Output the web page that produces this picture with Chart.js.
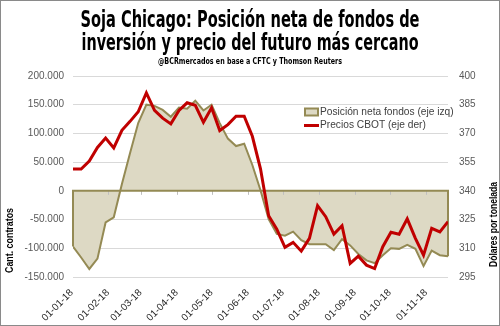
<!DOCTYPE html>
<html>
<head>
<meta charset="utf-8">
<script src="https://cdn.jsdelivr.net/npm/chart.js@4.4.1/dist/chart.umd.min.js"></script>
<style>
  html, body { margin: 0; padding: 0; background: #fff; }
  #wrap { width: 500px; height: 326px; border: 1px solid #8a8a8a; box-sizing: border-box; position: relative; }
  canvas { display: block; }
</style>
</head>
<body>
<div id="wrap"><canvas id="c" width="498" height="324"></canvas></div>
<script>
// Weekly dates (Tuesdays, 2018)
const dates = [
  '2018-01-02','2018-01-09','2018-01-16','2018-01-23','2018-01-30',
  '2018-02-06','2018-02-13','2018-02-20','2018-02-27',
  '2018-03-06','2018-03-13','2018-03-20','2018-03-27',
  '2018-04-03','2018-04-10','2018-04-17','2018-04-24',
  '2018-05-01','2018-05-08','2018-05-15','2018-05-22','2018-05-29',
  '2018-06-05','2018-06-12','2018-06-19','2018-06-26',
  '2018-07-03','2018-07-10','2018-07-17','2018-07-24','2018-07-31',
  '2018-08-07','2018-08-14','2018-08-21','2018-08-28',
  '2018-09-04','2018-09-11','2018-09-18','2018-09-25',
  '2018-10-02','2018-10-09','2018-10-16','2018-10-23','2018-10-30',
  '2018-11-06','2018-11-13','2018-11-20'
];
// Net position of funds (contracts) - left axis
const posicionFondos = [
  -97000,-116000,-136000,-118000,-55000,
  -46000,12000,66000,118000,
  150000,148000,141000,129000,
  145000,143000,157000,140000,
  150000,118000,91000,78000,82000,
  45000,1000,-49000,-75000,
  -78000,-71000,-86000,-93000,-93000,
  -93000,-103000,-84000,-95000,
  -110000,-121000,-126000,-112000,
  -100000,-101000,-94000,-101000,-131000,
  -104000,-112000,-114000
];
// CBOT price (USD/t) - right axis
const preciosCBOT = [
  351.4,351.4,355.6,362.7,367.6,
  362.4,371.6,376.3,381.3,
  391.2,382.1,378.0,375.0,
  382.0,386.0,384.7,375.8,
  383.4,371.5,374.6,379.0,379.0,
  368.5,351.5,327.0,320.0,
  310.5,313.1,308.5,315.2,332.3,
  326.5,317.4,321.8,302.1,
  305.9,301.2,299.4,310.8,
  318.4,317.3,325.4,315.2,306.4,
  320.4,318.6,323.9
];
// Month-start tick labels
const tickDates = ['2018-01-01','2018-02-01','2018-03-01','2018-04-01','2018-05-01','2018-06-01',
                   '2018-07-01','2018-08-01','2018-09-01','2018-10-01','2018-11-01'];
const seriesLabels = ['Posición neta fondos (eje izq)', 'Precios CBOT (eje der)'];
const titleLines = ['Soja Chicago: Posición neta de fondos de', 'inversión y precio del futuro más cercano'];
const subtitleText = '@BCRmercados en base a CFTC y Thomson Reuters';
const leftAxisTitle = 'Cant. contratos';
const rightAxisTitle = 'Dólares por tonelada';
const leftTicks = { min: -150000, max: 200000, step: 50000 };
const rightTicks = { min: 295, max: 400, step: 15 };

const DAY = 86400000;
const base = Date.UTC(2018, 0, 1);
const toDay = s => { const [y,m,d] = s.split('-').map(Number); return Math.round((Date.UTC(y, m-1, d) - base) / DAY); };
const dayToLabel = v => {
  const d = new Date(base + v * DAY);
  const p = n => String(n).padStart(2, '0');
  return p(d.getUTCDate()) + '-' + p(d.getUTCMonth()+1) + '-' + String(d.getUTCFullYear()).slice(2);
};
const fmtThousands = v => v === 0 ? '0' : (v < 0 ? '-' : '') + String(Math.abs(v)).replace(/\B(?=(\d{3})+(?!\d))/g, '.');

const days = dates.map(toDay);
const tickDays = tickDates.map(toDay);

const OLIVE = '#948a54';
const FILL = '#ddd9c4';
const RED = '#c00000';
const FONT = "'Liberation Sans', Arial, sans-serif";
const COND = "'DejaVu Sans Condensed', 'DejaVu Sans', sans-serif";

// draw text horizontally compressed to a target width
function fitText(ctx, text, x, y, font, targetW, align, rot) {
  ctx.save();
  ctx.font = font;
  const w = ctx.measureText(text).width;
  ctx.translate(x, y);
  if (rot) ctx.rotate(rot);
  ctx.scale(Math.min(1, targetW / w), 1);
  ctx.textAlign = align; ctx.textBaseline = 'alphabetic';
  ctx.fillText(text, 0, 0);
  ctx.restore();
}

const areaOutline = {
  id: 'areaOutline',
  afterDatasetDraw(chart, args) {
    if (args.index !== 0) return;
    const {ctx} = chart, x = chart.scales.x, y = chart.scales.y;
    const y0 = y.getPixelForValue(0);
    const n = days.length - 1;
    const xa = x.getPixelForValue(days[0]), xb = x.getPixelForValue(days[n]);
    ctx.save();
    ctx.strokeStyle = '#bfbfbf'; ctx.lineWidth = 1;
    tickDays.forEach(t => {
      const px = Math.round(x.getPixelForValue(t)) + 0.5;
      if (px < xa + 2 || px > xb) return;
      ctx.beginPath(); ctx.moveTo(px, y0); ctx.lineTo(px, y0 + 4); ctx.stroke();
    });
    ctx.strokeStyle = OLIVE; ctx.lineWidth = 2;
    ctx.beginPath();
    ctx.moveTo(xa, y.getPixelForValue(posicionFondos[0]));
    ctx.lineTo(xa, y0); ctx.lineTo(xb, y0);
    ctx.lineTo(xb, y.getPixelForValue(posicionFondos[n]));
    ctx.stroke();
    ctx.restore();
  }
};

const extras = {
  id: 'extras',
  afterDraw(chart) {
    const {ctx} = chart, area = chart.chartArea, s1 = chart.scales.y1;
    ctx.fillStyle = '#000';
    // title + subtitle
    fitText(ctx, titleLines[0], 249, 25.7, 'bold 23px ' + COND, 339, 'center');
    fitText(ctx, titleLines[1], 249, 49, 'bold 23px ' + COND, 337, 'center');
    fitText(ctx, subtitleText, 249, 63, 'bold 9.5px ' + COND, 184, 'center');
    // axis titles
    fitText(ctx, leftAxisTitle, 12, area.bottom - 4, 'bold 11px ' + FONT, 65, 'left', -Math.PI / 2);
    fitText(ctx, rightAxisTitle, s1.right - 2, area.bottom - 10, 'bold 11px ' + FONT, 85, 'left', -Math.PI / 2);
    // legend
    ctx.save();
    const lx = 303, ly = [111, 124.5];
    ctx.fillStyle = FILL; ctx.fillRect(lx + 1, ly[0] - 3.5, 13, 7);
    ctx.strokeStyle = OLIVE; ctx.lineWidth = 2; ctx.strokeRect(lx + 1, ly[0] - 3.5, 13, 7);
    ctx.strokeStyle = RED; ctx.lineWidth = 3;
    ctx.beginPath(); ctx.moveTo(lx, ly[1]); ctx.lineTo(lx + 15, ly[1]); ctx.stroke();
    ctx.font = '10.2px ' + FONT;
    ctx.fillStyle = '#404040';
    ctx.textBaseline = 'middle'; ctx.textAlign = 'left';
    ctx.fillText(chart.data.datasets[0].label, lx + 16, ly[0]);
    ctx.fillText(chart.data.datasets[1].label, lx + 16, ly[1]);
    ctx.restore();
  }
};

new Chart(document.getElementById('c'), {
  type: 'line',
  data: {
    datasets: [
      {
        label: seriesLabels[0],
        data: days.map((d, i) => ({x: d, y: posicionFondos[i]})),
        yAxisID: 'y',
        borderColor: OLIVE, borderWidth: 2,
        backgroundColor: FILL,
        fill: 'origin', pointRadius: 0, tension: 0, order: 1
      },
      {
        label: seriesLabels[1],
        data: days.map((d, i) => ({x: d, y: preciosCBOT[i]})),
        yAxisID: 'y1',
        borderColor: RED, borderWidth: 3,
        fill: false, pointRadius: 0, tension: 0, order: 0,
        borderJoinStyle: 'miter'
      }
    ]
  },
  options: {
    responsive: false,
    animation: false,
    layout: { padding: { top: 75, left: 0, right: 0, bottom: 0 } },
    plugins: {
      legend: { display: false },
      tooltip: { enabled: false },
      title: { display: false }
    },
    scales: {
      x: {
        type: 'linear',
        min: days[0], max: days[days.length - 1],
        grid: { display: false },
        border: { display: false },
        afterBuildTicks: s => { s.ticks = tickDays.map(v => ({value: v})); },
        afterFit: s => { s.height = 48; },
        ticks: {
          autoSkip: false, minRotation: 45, maxRotation: 45,
          padding: 2,
          color: '#262626',
          font: { family: FONT, size: 10 },
          callback: v => dayToLabel(v)
        }
      },
      y: {
        position: 'left',
        min: leftTicks.min, max: leftTicks.max,
        afterFit: s => { s.width = 72; },
        grid: { color: '#d9d9d9', lineWidth: 1, drawTicks: false },
        border: { display: false },
        ticks: {
          stepSize: leftTicks.step, padding: 9,
          color: '#595959', font: { family: FONT, size: 10 },
          callback: v => fmtThousands(v)
        }
      },
      y1: {
        position: 'right',
        min: rightTicks.min, max: rightTicks.max,
        afterFit: s => { s.width = 51; },
        grid: { display: false, drawTicks: false },
        border: { display: false },
        ticks: {
          stepSize: rightTicks.step, padding: 11,
          color: '#595959', font: { family: FONT, size: 10 }
        }
      }
    }
  },
  plugins: [areaOutline, extras]
});
</script>
</body>
</html>
